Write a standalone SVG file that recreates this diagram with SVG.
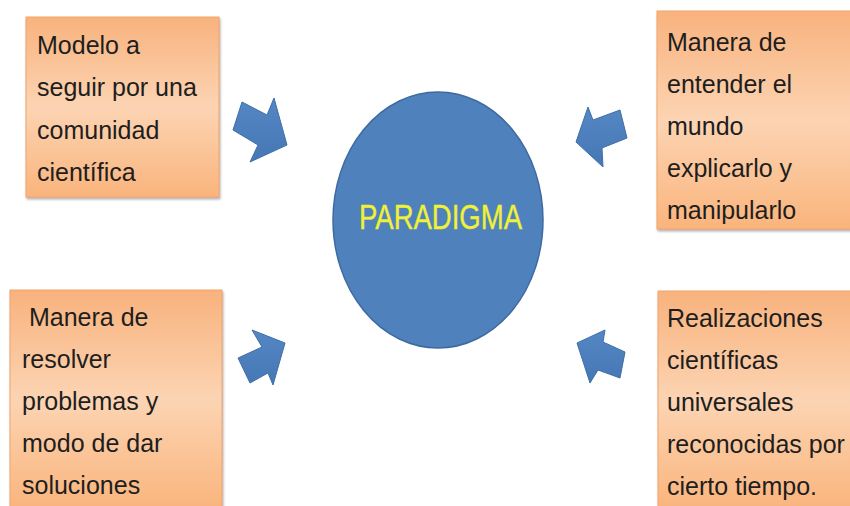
<svg xmlns="http://www.w3.org/2000/svg" width="850" height="506" viewBox="0 0 850 506">
  <defs>
    <linearGradient id="peach" x1="0" y1="0" x2="0" y2="1">
      <stop offset="0" stop-color="#F8B27D"/>
      <stop offset="0.5" stop-color="#FCD4B3"/>
      <stop offset="1" stop-color="#FAB47C"/>
    </linearGradient>
    <linearGradient id="blueFill" x1="0" y1="0" x2="0" y2="1">
      <stop offset="0" stop-color="#5487C4"/>
      <stop offset="1" stop-color="#4677B5"/>
    </linearGradient>
    <filter id="shade" x="-5%" y="-5%" width="112%" height="112%">
      <feDropShadow dx="1" dy="2" stdDeviation="1.2" flood-color="#808080" flood-opacity="0.6"/>
    </filter>
  </defs>
  <style>
    .box { fill: url(#peach); stroke: #F2A569; stroke-width: 1; filter: url(#shade); }
    .label { font-family: "Liberation Sans", Arial, sans-serif; font-size: 25px; fill: #1E1E1E; }
    .arrow { fill: url(#blueFill); stroke: #3F6FA8; stroke-width: 1; stroke-linejoin: round; }
    .hub { fill: #4F81BD; stroke: #3D6B9F; stroke-width: 1.5; }
    .hubText { font-family: "Liberation Sans", Arial, sans-serif; font-size: 35px; fill: #F2F23A; stroke: #E6EA30; stroke-width: 0.4; }
  </style>

  <rect width="850" height="506" fill="#FFFFFF"/>

  <!-- central concept -->
  <g id="paradigma">
    <ellipse class="hub" cx="438" cy="220" rx="105" ry="128"/>
    <text class="hubText" x="359" y="229" textLength="163" lengthAdjust="spacingAndGlyphs">PARADIGMA</text>
  </g>

  <!-- surrounding definitions -->
  <g id="modelo">
    <rect class="box" x="26" y="17" width="193" height="180"/>
    <text class="label" x="37" y="54">Modelo a</text>
    <text class="label" x="37" y="96">seguir por una</text>
    <text class="label" x="37" y="139">comunidad</text>
    <text class="label" x="37" y="181">científica</text>
  </g>

  <g id="entender">
    <rect class="box" x="657" y="11" width="196" height="218"/>
    <text class="label" x="667" y="51">Manera de</text>
    <text class="label" x="667" y="93">entender el</text>
    <text class="label" x="667" y="135">mundo</text>
    <text class="label" x="667" y="177">explicarlo y</text>
    <text class="label" x="667" y="219">manipularlo</text>
  </g>

  <g id="resolver">
    <rect class="box" x="10" y="290" width="212" height="220"/>
    <text class="label" x="22" y="326" xml:space="preserve"> Manera de</text>
    <text class="label" x="22" y="368">resolver</text>
    <text class="label" x="22" y="410">problemas y</text>
    <text class="label" x="22" y="452">modo de dar</text>
    <text class="label" x="22" y="494">soluciones</text>
  </g>

  <g id="realizaciones">
    <rect class="box" x="658" y="291" width="196" height="220"/>
    <text class="label" x="667" y="327">Realizaciones</text>
    <text class="label" x="667" y="369">científicas</text>
    <text class="label" x="667" y="411">universales</text>
    <text class="label" x="667" y="453">reconocidas por</text>
    <text class="label" x="667" y="495">cierto tiempo.</text>
  </g>

  <!-- block arrows pointing at the centre -->
  <g id="connectors">
    <polygon class="arrow" points="242,102 267,115 274,98 287,145 250,162 258,145 233,130"/>
    <polygon class="arrow" points="588,107 593,120 620,110 627,138 602,148 603,167 576,142"/>
    <polygon class="arrow" points="252,330 285,343 273,385 268,373 250,383 238,358 262,347"/>
    <polygon class="arrow" points="605,330 603,342 625,352 620,378 598,370 590,383 577,343"/>
  </g>
</svg>
